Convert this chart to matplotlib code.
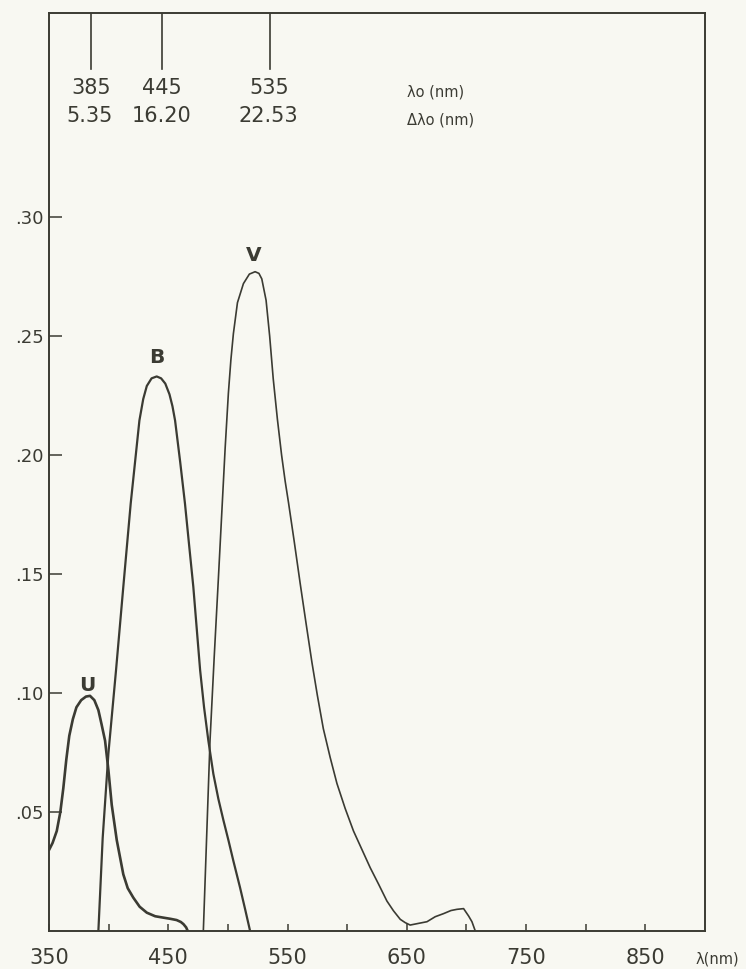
import matplotlib
matplotlib.use("Agg")
import matplotlib.pyplot as plt

# U, B, V response curves (wavelength nm, response)
u_nm = [350, 353, 356.5, 359.5, 362, 364.5, 367, 370, 373, 377, 381, 384.4, 388, 391.4, 394, 397, 399.8, 402.6, 406.8,
        412.3, 416, 420.7, 426, 432, 439, 446, 452, 457, 460.5, 462.7, 465, 466.3]
u_val = [0.034, 0.037, 0.042, 0.050, 0.060, 0.072, 0.082, 0.089, 0.094, 0.097, 0.0985, 0.0988, 0.097, 0.0928, 0.087, 0.080,
         0.0676, 0.053, 0.0382, 0.0238, 0.018, 0.014, 0.0102, 0.0077, 0.0062, 0.0056, 0.0051, 0.0046, 0.0038, 0.0029, 0.0015, 0.0]

b_nm = [391.4, 395, 399.8, 406.2, 412.3, 418.5, 425.8, 429, 432, 436, 440.3, 444, 447.5, 451, 453.5, 455.7, 460, 464, 467.5,
        471, 476.7, 480, 483.6, 487.8, 492, 496.2, 500.5, 504.6, 510.2, 514.5, 518.6]
b_val = [0.0, 0.039, 0.0746, 0.1096, 0.1446, 0.1796, 0.2145, 0.2235, 0.229, 0.2322, 0.233, 0.2322, 0.230, 0.2255, 0.2205,
         0.2145, 0.197, 0.1796, 0.162, 0.1446, 0.1096, 0.094, 0.080, 0.066, 0.0555, 0.0466, 0.038, 0.0294, 0.0182, 0.009, 0.0]

v_nm = [479.4, 482.2, 485, 488.5, 492, 495, 497.7, 500.4, 502.5, 504.6, 508, 513, 518, 522.8, 526, 528.4, 532, 535, 538,
        541.5, 545, 548, 550.8, 555.5, 560.6, 565.6, 570.4, 575, 580, 585.7, 591.4, 598.3, 605.3, 612.3, 619.3, 626.3, 633.3,
        638.8, 644.5, 648.7, 652.8, 659.8, 666.9, 673.8, 680.8, 687, 692, 697.6, 701.8, 704.6, 707.4]
v_val = [0.0, 0.040, 0.080, 0.115, 0.148, 0.177, 0.203, 0.226, 0.240, 0.251, 0.264, 0.272, 0.276, 0.277, 0.2763, 0.274,
         0.265, 0.250, 0.232, 0.215, 0.200, 0.189, 0.180, 0.164, 0.146, 0.129, 0.113, 0.099, 0.085, 0.073, 0.062, 0.0515,
         0.042, 0.0343, 0.0266, 0.0197, 0.0126, 0.0085, 0.0049, 0.0035, 0.0025, 0.0032, 0.0039, 0.006, 0.0073, 0.0086,
         0.0091, 0.0094, 0.0063, 0.0039, 0.0]

# effective wavelengths and widths shown at the top
lam0 = [385, 445, 535]
lam0_txt = ["385", "445", "535"]
dlam_txt = ["5.35", "16.20", "22.53"]

yticks = [0.05, 0.10, 0.15, 0.20, 0.25, 0.30]
ytick_labels = [".05", ".10", ".15", ".20", ".25", ".30"]
xticks = [350, 400, 450, 500, 550, 600, 650, 700, 750, 800, 850]
xtick_labels = ["350", "", "450", "", "550", "", "650", "", "750", "", "850"]

ink = "#3b3b33"
paper = "#f8f8f2"

fig = plt.figure(figsize=(7.46, 9.69), dpi=100)
fig.patch.set_facecolor(paper)
ax = fig.add_axes([49 / 746, 38 / 969, 656 / 746, 918 / 969])
ax.set_facecolor(paper)

ax.plot(u_nm, u_val, color=ink, lw=1.9, solid_joinstyle="round", solid_capstyle="round")
ax.plot(b_nm, b_val, color=ink, lw=1.6, solid_joinstyle="round", solid_capstyle="round")
ax.plot(v_nm, v_val, color=ink, lw=1.2, solid_joinstyle="round", solid_capstyle="round")

ax.text(381.9, 0.1008, "U", ha="center", va="baseline", fontsize=14.5, fontweight="bold", color=ink)
ax.text(440.2, 0.2385, "B", ha="center", va="baseline", fontsize=14.5, fontweight="bold", color=ink)
ax.text(522, 0.2817, "V", ha="center", va="baseline", fontsize=14.5, fontweight="bold", color=ink)

ax.set_xlim(350, 900)
ax.set_ylim(0, 0.3857)

for i in range(len(lam0)):
    ax.plot([lam0[i], lam0[i]], [0.3623, 0.3857], color=ink, lw=1.2)
    ax.text(lam0[i], 0.3518, lam0_txt[i], ha="center", va="baseline", fontsize=15, color=ink)
    ax.text(lam0[i] - 1, 0.3400, dlam_txt[i], ha="center", va="baseline", fontsize=15, color=ink)
ax.text(650, 0.3505, "λo (nm)", ha="left", va="baseline", fontsize=10.5, color=ink)
ax.text(650, 0.3389, "Δλo (nm)", ha="left", va="baseline", fontsize=10.5, color=ink)

ax.set_xticks(xticks)
ax.set_xticklabels(xtick_labels)
ax.set_yticks(yticks)
ax.set_yticklabels(ytick_labels)
ax.tick_params(axis="x", direction="in", length=5, width=1.1, color=ink, labelsize=15, labelcolor=ink, pad=12)
ax.tick_params(axis="y", direction="in", length=9, width=1.1, color=ink, labelsize=13, labelcolor=ink, pad=4)
for s in ax.spines.values():
    s.set_color(ink)
    s.set_linewidth(1.4)

ax.text(892, -0.022, "λ(nm)", transform=ax.get_xaxis_transform(), ha="left", va="top",
        fontsize=10.5, color=ink, clip_on=False)

fig.savefig("out.png", dpi=100, facecolor=paper)
